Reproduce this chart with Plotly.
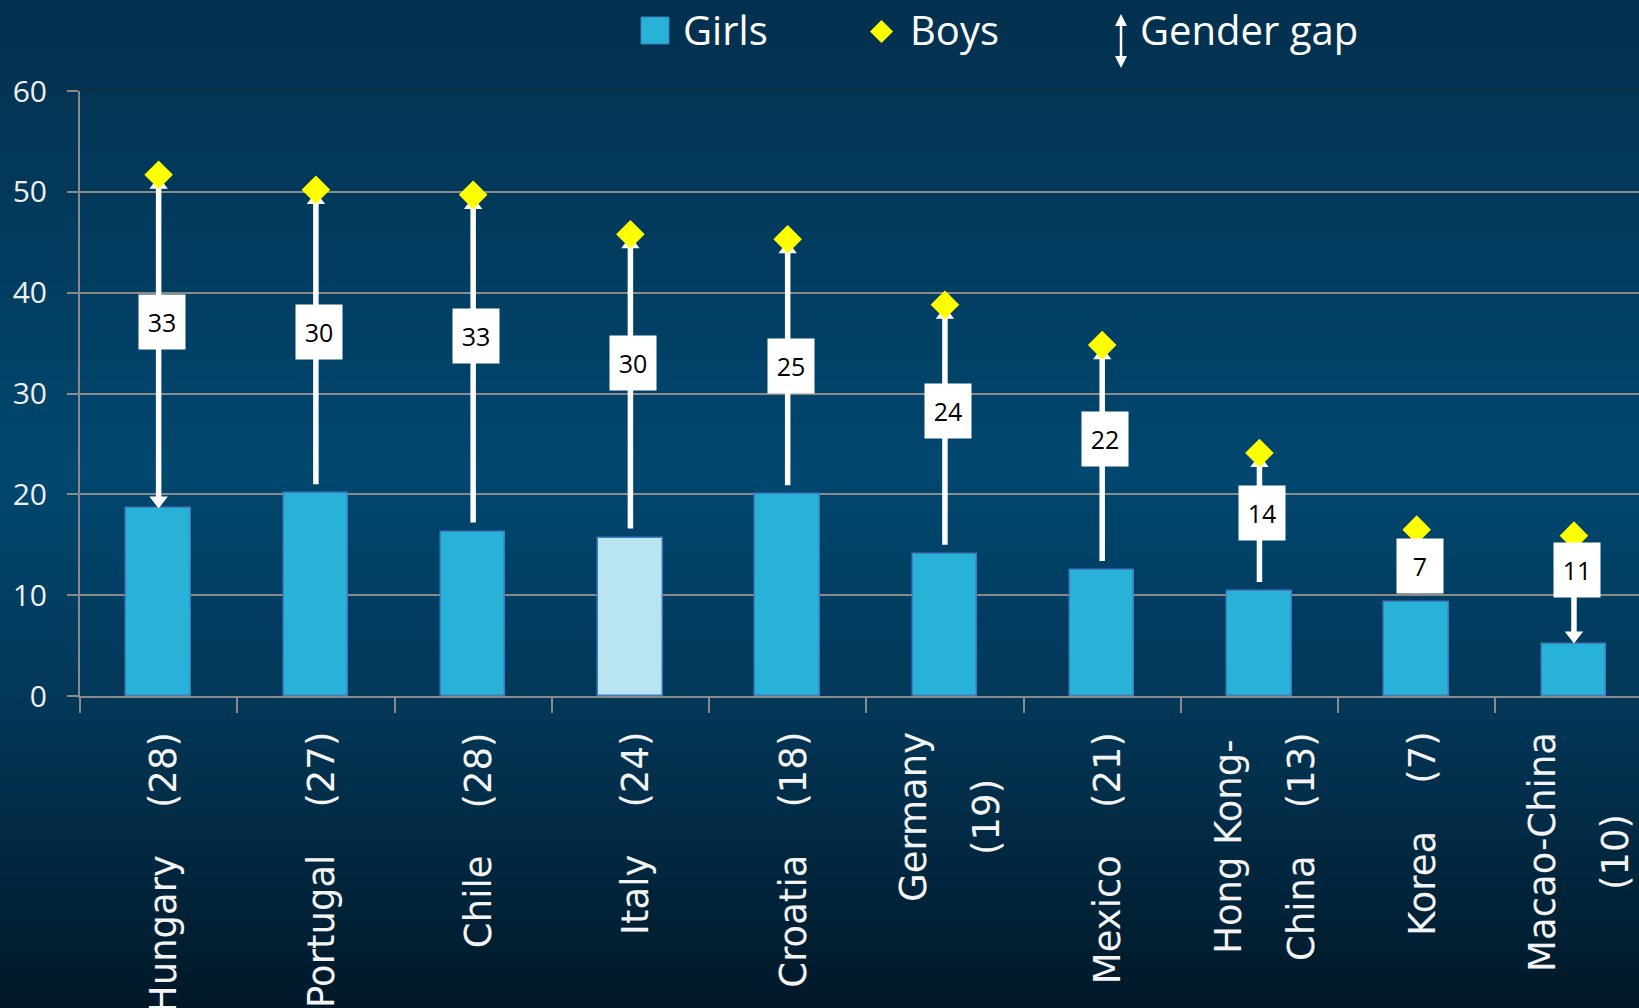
import plotly.graph_objects as go

# ---------------- data ----------------
countries = ["Hungary", "Portugal", "Chile", "Italy", "Croatia", "Germany",
             "Mexico", "Hong Kong-China", "Korea", "Macao-China"]
tick_labels = ["Hungary    (28)", "Portugal    (27)", "Chile    (28)", "Italy    (24)",
               "Croatia    (18)", "Germany<br>(19)", "Mexico    (21)",
               "Hong Kong-<br>China    (13)", "Korea    (7)", "Macao-China<br>(10)"]
girls = [18.6, 20.1, 16.3, 15.7, 20.0, 14.1, 12.5, 10.4, 9.3, 5.2]
boys = [51.7, 50.2, 49.7, 45.8, 45.3, 38.8, 34.8, 24.1, 16.5, 15.9]
gender_gap = [33, 30, 33, 30, 25, 24, 22, 14, 7, 11]
y_ticks = [0, 10, 20, 30, 40, 50, 60]
highlight_country = "Italy"

# ---------------- style ----------------
arrow_heads = ["both", "up", "up", "up", "up", "up", "up", "up", "up", "down"]
BAR = "#29b2d8"
BAR_HI = "#b9e5f2"
BAR_EDGE = "#3f7cbf"
GRID = "#8a8a8a"
WHITE = "#ffffff"
YELLOW = "#ffff00"

W, H = 1639, 1008
L, T, B = 80, 91, 312
PLOT_W = W - L
PLOT_H = H - T - B
CAT_W = 157.26
units_per_px = 60 / PLOT_H


def px_x(X):
    return (X - L) / PLOT_W


def px_y(Y):
    return (H - B - Y) / PLOT_H


n = len(countries)
xs = list(range(n))
bar_colors = [BAR_HI if c == highlight_country else BAR for c in countries]

fig = go.Figure()

fig.add_trace(go.Bar(
    x=xs, y=girls, width=0.41,
    marker=dict(color=bar_colors, line=dict(color=BAR_EDGE, width=1.5)),
    hoverinfo="skip", showlegend=False))

# arrows
up_size, down_size = 16, 16
up_off = 1.0
down_off = (down_size / 2) * units_per_px
lx, ly = [], []
ux, uy, dx, dy = [], [], [], []
for i in xs:
    kind = arrow_heads[i]
    top = boys[i] - up_off if kind in ("up", "both") else boys[i]
    bottom = girls[i] + down_off if kind in ("down", "both") else girls[i] + 0.9
    lx += [i, i, None]
    ly += [bottom, top, None]
    if kind in ("up", "both"):
        ux.append(i); uy.append(top)
    if kind in ("down", "both"):
        dx.append(i); dy.append(bottom)

fig.add_trace(go.Scatter(x=lx, y=ly, mode="lines", line=dict(color=WHITE, width=5.5),
                         hoverinfo="skip", showlegend=False))
fig.add_trace(go.Scatter(x=ux, y=uy, mode="markers",
                         marker=dict(symbol="triangle-up", size=up_size, color=WHITE),
                         hoverinfo="skip", showlegend=False))
fig.add_trace(go.Scatter(x=dx, y=dy, mode="markers",
                         marker=dict(symbol="triangle-down", size=down_size, color=WHITE),
                         hoverinfo="skip", showlegend=False))
fig.add_trace(go.Scatter(x=xs, y=boys, mode="markers",
                         marker=dict(symbol="diamond", size=22, color=YELLOW),
                         hoverinfo="skip", showlegend=False))

annotations = []
# gap labels (placed at roughly 0.69 of the boys' height)
for i in xs:
    annotations.append(dict(
        x=i, y=0.687 * boys[i] + 1.6, xref="x", yref="y",
        text=str(gender_gap[i]), showarrow=False, xshift=3,
        bgcolor=WHITE, width=46, height=54, borderpad=0, valign="middle",
        font=dict(family="Open Sans", size=25, color="#000000")))

# category labels (rotated)
for i in xs:
    lines = tick_labels[i].replace(" ", "\u00a0").split("<br>")
    txt = "<br>".join("<span style='font-size:37px'>%s</span>" % s for s in lines)
    annotations.append(dict(
        x=i, y=0, xref="x", yref="y", text=txt, showarrow=False,
        textangle=-90, xanchor="center", yanchor="top", yshift=-34, xshift=5,
        align="center",
        font=dict(family="DejaVu Sans", size=56, color="#f4f4f4")))

# legend texts
leg_font = dict(family="Open Sans", size=40, color=WHITE)
for label, X in [("Girls", 681), ("Boys", 908), ("Gender gap", 1138)]:
    annotations.append(dict(x=px_x(X), y=px_y(30), xref="paper", yref="paper",
                            text=label, showarrow=False, xanchor="left", yanchor="middle",
                            font=leg_font))

shapes = []
# gradient background
stops = [(0.0, (3, 48, 78)), (0.47, (1, 71, 111)), (0.70, (2, 55, 88)), (1.0, (1, 24, 40))]


def grad(f):
    for (f0, c0), (f1, c1) in zip(stops[:-1], stops[1:]):
        if f0 <= f <= f1:
            t = (f - f0) / (f1 - f0)
            return "rgb(%d,%d,%d)" % tuple(round(a + (b - a) * t) for a, b in zip(c0, c1))
    return "rgb(%d,%d,%d)" % stops[-1][1]


NB = 140
for k in range(NB):
    y0 = k * H / NB
    y1 = (k + 1) * H / NB + 1
    shapes.append(dict(type="rect", xref="paper", yref="paper", layer="below",
                       x0=px_x(-5), x1=px_x(W + 5), y0=px_y(y1), y1=px_y(y0),
                       fillcolor=grad((k + 0.5) / NB), line=dict(width=0)))

# dark top border of plot area
shapes.append(dict(type="line", xref="paper", yref="y", x0=0, x1=1, y0=60, y1=60,
                   line=dict(color="#1c2630", width=2)))

# legend symbols
shapes.append(dict(type="rect", xref="paper", yref="paper",
                   x0=px_x(641), x1=px_x(669), y0=px_y(44), y1=px_y(17),
                   fillcolor=BAR, line=dict(color=BAR_EDGE, width=1)))
cx, cy, r = 881.5, 31.5, 11.5
shapes.append(dict(type="path", xref="paper", yref="paper",
                   path="M %f %f L %f %f L %f %f L %f %f Z" % (
                       px_x(cx), px_y(cy - r), px_x(cx + r), px_y(cy),
                       px_x(cx), px_y(cy + r), px_x(cx - r), px_y(cy)),
                   fillcolor=YELLOW, line=dict(width=0)))
ax_ = 1121
shapes.append(dict(type="line", xref="paper", yref="paper",
                   x0=px_x(ax_), x1=px_x(ax_), y0=px_y(24), y1=px_y(58),
                   line=dict(color=WHITE, width=2.5)))
shapes.append(dict(type="path", xref="paper", yref="paper",
                   path="M %f %f L %f %f L %f %f Z" % (
                       px_x(ax_), px_y(14), px_x(ax_ + 6), px_y(26), px_x(ax_ - 6), px_y(26)),
                   fillcolor=WHITE, line=dict(width=0)))
shapes.append(dict(type="path", xref="paper", yref="paper",
                   path="M %f %f L %f %f L %f %f Z" % (
                       px_x(ax_), px_y(68), px_x(ax_ + 6), px_y(56), px_x(ax_ - 6), px_y(56)),
                   fillcolor=WHITE, line=dict(width=0)))

x_max = -0.5 + PLOT_W / CAT_W

fig.update_layout(
    width=W, height=H,
    margin=dict(l=L, r=0, t=T, b=B, pad=0),
    paper_bgcolor="#02304c", plot_bgcolor="rgba(0,0,0,0)",
    showlegend=False, bargap=0,
    annotations=annotations, shapes=shapes,
    xaxis=dict(range=[-0.5, x_max], tickmode="array",
               tickvals=[i - 0.5 for i in range(n + 1)], showticklabels=False,
               ticks="outside", ticklen=15, tickwidth=2, tickcolor=GRID,
               showgrid=False, zeroline=False, showline=True, linecolor=GRID, linewidth=2,
               fixedrange=True),
    yaxis=dict(range=[0, 60], tickmode="array", tickvals=y_ticks,
               ticks="outside", ticklen=11, tickwidth=2, tickcolor=GRID,
               showgrid=True, gridcolor=GRID, gridwidth=2, zeroline=False,
               showline=True, linecolor=GRID, linewidth=2,
               tickfont=dict(family="Open Sans", size=30, color="#f0f0f0"),
               ticklabelstandoff=14, fixedrange=True),
)

fig.write_html("out.html", config={"displayModeBar": False},
               post_script="document.body.style.margin='0';document.body.style.overflow='hidden';")
